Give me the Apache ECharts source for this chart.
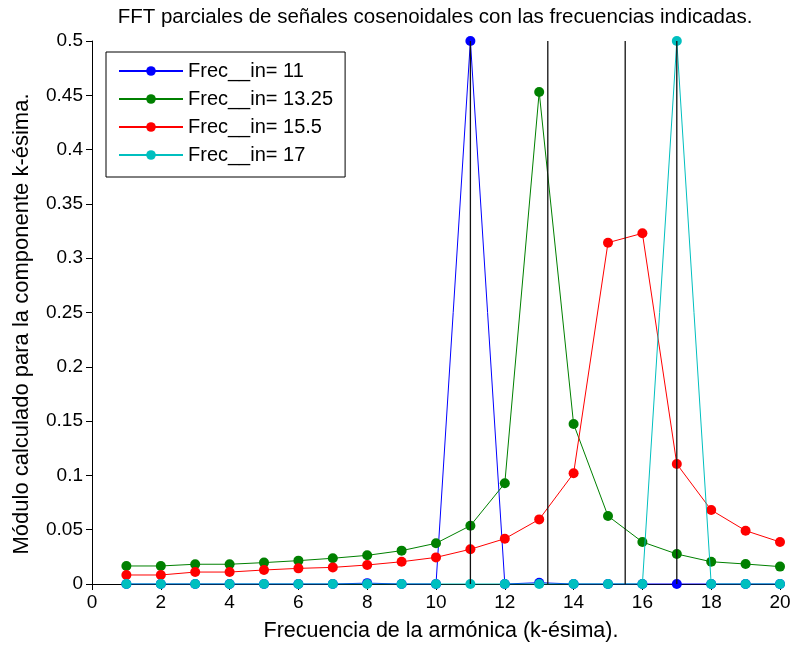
<!DOCTYPE html>
<html>
<head>
<meta charset="utf-8">
<script src="https://cdn.jsdelivr.net/npm/echarts@6/dist/echarts.min.js"></script>
<style>html,body{margin:0;padding:0;background:#fff}#c{width:794px;height:646px}</style>
</head>
<body>
<div id="c"></div>
<script>
const harmonics = [1,2,3,4,5,6,7,8,9,10,11,12,13,14,15,16,17,18,19,20];
const seriesNames = ['Frec__in= 11','Frec__in= 13.25','Frec__in= 15.5','Frec__in= 17'];
const blueValues  = [0,0,0,0,0,0,0,0.0008,0,0,0.5,0,0.0012,0,0,0,0,0,0,0];
const greenValues = [0.0166,0.0166,0.0182,0.0182,0.0197,0.0215,0.0237,0.0264,0.0307,0.0375,0.0537,0.0927,0.453,0.1473,0.0626,0.0387,0.0276,0.0205,0.0184,0.016];
const redValues   = [0.0083,0.0083,0.011,0.011,0.0129,0.0144,0.0153,0.0175,0.0205,0.0245,0.032,0.0417,0.0595,0.1019,0.3143,0.3229,0.1105,0.0681,0.0491,0.0387];
const cyanValues  = [0,0,0,0,0,0,0,0,0,0,0,0,0,0,0,0,0.5,0,0,0];
const inputFreqs  = [11,13.25,15.5,17];
const refLineTop  = 0.5;
const titleText = 'FFT parciales de señales cosenoidales con las frecuencias indicadas.';
const xName = 'Frecuencia de la armónica (k-ésima).';
const yName = 'Módulo calculado para la componente k-ésima.';

const colors = ['#0000ff','#008000','#ff0000','#00bfbf'];
const allValues = [blueValues, greenValues, redValues, cyanValues];
const FONT = 'Liberation Sans, Arial, sans-serif';

const series = allValues.map((vals, i) => ({
  name: seriesNames[i],
  type: 'line',
  data: harmonics.map((h, j) => [h, vals[j]]),
  symbol: 'circle',
  symbolSize: 10,
  lineStyle: {color: colors[i], width: 1},
  itemStyle: {color: colors[i]},
  animation: false,
  z: 2 + i
}));
inputFreqs.forEach(f => {
  series.push({
    type: 'line',
    data: [[f, 0], [f, refLineTop]],
    symbol: 'none',
    lineStyle: {color: '#111', width: 1.3},
    animation: false,
    silent: true,
    z: 10
  });
});

const chart = echarts.init(document.getElementById('c'));
chart.setOption({
  backgroundColor: '#fff',
  animation: false,
  grid: {left: 92, right: 14, top: 41, bottom: 62, containLabel: false},
  graphic: [{
    type: 'text', x: 435, y: 17,
    style: {text: titleText, font: '20.5px ' + FONT, fill: '#000', textAlign: 'center', textVerticalAlign: 'middle'}
  }, {
    type: 'text', x: 441, y: 631,
    style: {text: xName, font: '21.5px ' + FONT, fill: '#000', textAlign: 'center', textVerticalAlign: 'middle'}
  }, {
    type: 'text', x: 22, y: 324, rotation: Math.PI / 2,
    style: {text: yName, font: '22px ' + FONT, fill: '#000', textAlign: 'center', textVerticalAlign: 'middle'}
  }],
  legend: {
    data: seriesNames,
    orient: 'vertical',
    left: 106, top: 52,
    padding: [9, 12, 12, 12],
    itemGap: 8,
    itemWidth: 64, itemHeight: 12,
    borderColor: '#000', borderWidth: 1, borderRadius: 0,
    backgroundColor: '#fff',
    textStyle: {fontFamily: FONT, fontSize: 20, color: '#000'},
    z: 20
  },
  xAxis: {
    type: 'value', min: 0, max: 20, interval: 2,
    axisLine: {show: true, lineStyle: {color: '#000'}},
    axisTick: {show: true, inside: false, length: 6, lineStyle: {color: '#000'}},
    axisLabel: {fontFamily: FONT, fontSize: 19, color: '#000', margin: 9},
    splitLine: {show: false}
  },
  yAxis: {
    type: 'value', min: 0, max: 0.5, interval: 0.05,
    axisLine: {show: true, lineStyle: {color: '#000'}},
    axisTick: {show: true, inside: false, length: 6, lineStyle: {color: '#000'}},
    axisLabel: {fontFamily: FONT, fontSize: 19, color: '#000', margin: 9,
      formatter: v => String(Math.round(v * 100) / 100)},
    splitLine: {show: false}
  },
  series: series
});
</script>
</body>
</html>
